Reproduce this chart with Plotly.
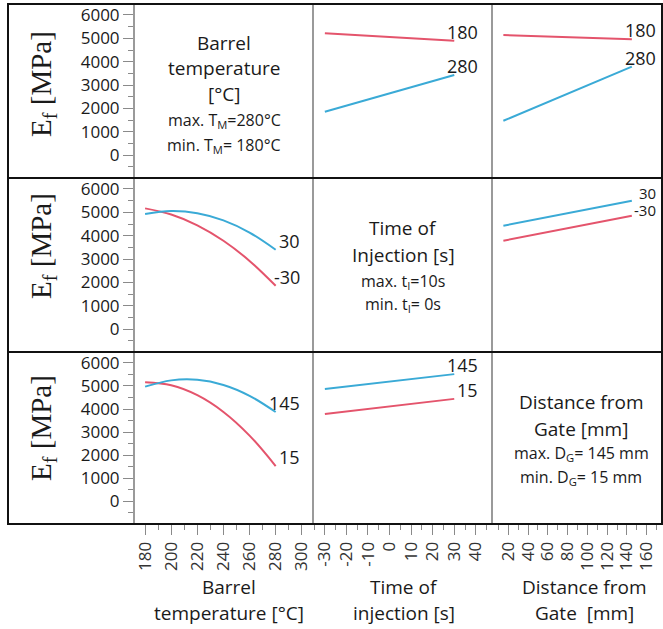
import plotly.graph_objects as go
from plotly.subplots import make_subplots

# ---------------- data ----------------
temp_x = [180, 200, 220, 240, 260, 280]          # barrel temperature [°C]
inj_x = [-30, 30]                                 # time of injection [s]
dist_x = [15, 145]                                # distance from gate [mm]

# Row 1: lines by barrel temperature (180 / 280)
r1_inj_180 = [5216, 4900]
r1_inj_280 = [1857, 3430]
r1_dist_180 = [5143, 4957]
r1_dist_280 = [1470, 3786]

# Row 2: lines by time of injection (-30 / 30)
r2_temp_m30 = [5169, 4908, 4446, 3783, 2921, 1856]
r2_temp_30 = [4929, 5053, 4961, 4655, 4134, 3399]
r2_dist_m30 = [3784, 4856]
r2_dist_30 = [4427, 5499]

# Row 3: lines by distance from gate (15 / 145)
r3_temp_15 = [5157, 5026, 4598, 3873, 2849, 1530]
r3_temp_145 = [4969, 5241, 5266, 5042, 4572, 3870]
r3_inj_15 = [3782, 4440]
r3_inj_145 = [4869, 5512]

y_ticks = [0, 1000, 2000, 3000, 4000, 5000, 6000]
temp_ticks = [180, 200, 220, 240, 260, 280, 300]
inj_ticks = [-30, -20, -10, 0, 10, 20, 30, 40]
dist_ticks = [20, 40, 60, 80, 100, 120, 140, 160]

RED = "#e4546c"
BLUE = "#3aaad6"
TXT = "#1a1a1a"
FONT = "Open Sans"

W, H = 663, 629
L, R, T, B = 134, 0, 4, 105
PW, PH = W - L - R, H - T - B

def px(x):
    return (x - L) / PW

def py(y):
    return (T + PH - y) / PH

fig = make_subplots(rows=3, cols=3, horizontal_spacing=0, vertical_spacing=0,
                    column_widths=[179, 179, 171], row_heights=[174, 174, 172])

def line(x, y, color, row, col, smooth=False):
    fig.add_trace(go.Scatter(x=x, y=y, mode="lines",
                             line=dict(color=color, width=2,
                                       shape="spline" if smooth else "linear"),
                             showlegend=False, hoverinfo="skip"), row=row, col=col)

def endlabel(text, x, y, row, col, yshift=-5, size=18):
    idx = (row - 1) * 3 + col
    xr = "x" if idx == 1 else f"x{idx}"
    yr = "y" if idx == 1 else f"y{idx}"
    fig.add_annotation(x=x, y=y, xref=xr, yref=yr, text=text, showarrow=False,
                       xanchor="right", yanchor="bottom", xshift=26, yshift=yshift,
                       font=dict(family=FONT, size=size, color=TXT))

# empty diagonal panels (text only) still need their axes drawn
for rc in (1, 2, 3):
    fig.add_trace(go.Scatter(x=[None], y=[None], mode="lines", showlegend=False,
                             hoverinfo="skip"), row=rc, col=rc)

# Row 1
line(inj_x, r1_inj_180, RED, 1, 2); line(inj_x, r1_inj_280, BLUE, 1, 2)
line(dist_x, r1_dist_180, RED, 1, 3); line(dist_x, r1_dist_280, BLUE, 1, 3)
endlabel("180", inj_x[-1], r1_inj_180[-1], 1, 2)
endlabel("280", inj_x[-1], r1_inj_280[-1], 1, 2)
endlabel("180", dist_x[-1], r1_dist_180[-1], 1, 3)
endlabel("280", dist_x[-1], r1_dist_280[-1], 1, 3)
# Row 2
line(temp_x, r2_temp_m30, RED, 2, 1, True); line(temp_x, r2_temp_30, BLUE, 2, 1, True)
line(dist_x, r2_dist_m30, RED, 2, 3); line(dist_x, r2_dist_30, BLUE, 2, 3)
endlabel("30", temp_x[-1], r2_temp_30[-1], 2, 1)
endlabel("-30", temp_x[-1], r2_temp_m30[-1], 2, 1)
endlabel("30", dist_x[-1], r2_dist_30[-1], 2, 3, yshift=-4, size=15)
endlabel("-30", dist_x[-1], r2_dist_m30[-1], 2, 3, yshift=-6, size=15)
# Row 3
line(temp_x, r3_temp_15, RED, 3, 1, True); line(temp_x, r3_temp_145, BLUE, 3, 1, True)
line(inj_x, r3_inj_15, RED, 3, 2); line(inj_x, r3_inj_145, BLUE, 3, 2)
endlabel("145", temp_x[-1], r3_temp_145[-1], 3, 1)
endlabel("15", temp_x[-1], r3_temp_15[-1], 3, 1)
endlabel("145", inj_x[-1], r3_inj_145[-1], 3, 2)
endlabel("15", inj_x[-1], r3_inj_15[-1], 3, 2)

# ---------------- axes ----------------
xranges = {1: [171.5, 308.6], 2: [-35.5, 47.5], 3: [3.5, 176.5]}
xticks = {1: temp_ticks, 2: inj_ticks, 3: dist_ticks}
xminor = {1: 10, 2: 5, 3: 10}
for r in (1, 2, 3):
    for c in (1, 2, 3):
        bottom = (r == 3)
        fig.update_xaxes(row=r, col=c, range=xranges[c], showgrid=False, zeroline=False,
                         showline=False, tickmode="array", tickvals=xticks[c],
                         ticktext=[str(v) for v in xticks[c]],
                         showticklabels=bottom, ticks="outside" if bottom else "",
                         ticklen=10, tickwidth=1, tickcolor="#8a8a8a", tickangle=-90,
                         tickfont=dict(family=FONT, size=17, color="#333333"),
                         minor=dict(dtick=xminor[c], tick0=0, ticks="outside" if bottom else "",
                                    ticklen=5, tickcolor="#8a8a8a", showgrid=False))
        left = (c == 1)
        fig.update_yaxes(row=r, col=c, range=[-980, 6470], showgrid=False, zeroline=False,
                         showline=False, tickmode="array", tickvals=y_ticks,
                         ticktext=[str(v) for v in y_ticks],
                         showticklabels=left, ticks="outside" if left else "",
                         ticklen=10, tickwidth=1, tickcolor="#8a8a8a",
                         tickfont=dict(family=FONT, size=17, color=TXT),
                         minor=dict(dtick=500, tick0=0, ticks="outside" if left else "",
                                    ticklen=5, tickcolor="#8a8a8a", showgrid=False))

# ---------------- frame lines ----------------
shapes = []
for xv in (134, 313, 492):
    shapes.append(dict(type="line", xref="paper", yref="paper", x0=px(xv), x1=px(xv),
                       y0=0, y1=1, line=dict(color="#9a9a9a", width=2)))
for yv in (178, 352):
    shapes.append(dict(type="line", xref="paper", yref="paper", x0=px(8), x1=px(663),
                       y0=py(yv), y1=py(yv), line=dict(color="#111111", width=2)))
shapes.append(dict(type="rect", xref="paper", yref="paper", x0=px(8), x1=px(662),
                   y0=py(524), y1=py(4), line=dict(color="#111111", width=2)))
fig.update_layout(shapes=shapes)

# ---------------- text ----------------
def txt(text, x, y, size=19, family=FONT, angle=0):
    fig.add_annotation(text=text, x=px(x), y=py(y), xref="paper", yref="paper",
                       showarrow=False, xanchor="center", yanchor="middle",
                       textangle=angle, font=dict(family=family, size=size, color=TXT))

# y titles
for yc in (84, 246, 428):
    txt("E<sub>f</sub> [MPa]", 43, yc, size=29, family="Liberation Serif", angle=-90)

# panel texts
txt("Barrel", 224, 43); txt("temperature", 224, 68); txt("[°C]", 224, 94)
txt("max. T<sub>M</sub>=280°C", 224, 121, size=16)
txt("min. T<sub>M</sub>= 180°C", 224, 145, size=16)

txt("Time of", 403, 228); txt("Injection [s]", 403, 255)
txt("max. t<sub>I</sub>=10s", 403, 281, size=16)
txt("min. t<sub>I</sub>= 0s", 403, 305, size=16)

txt("Distance from", 581, 402); txt("Gate [mm]", 581, 429)
txt("max. D<sub>G</sub>= 145 mm", 581, 453, size=16)
txt("min. D<sub>G</sub>= 15 mm", 581, 477, size=16)

# x titles
txt("Barrel", 229, 587); txt("temperature [°C]", 229, 613)
txt("Time of", 404, 587); txt("injection [s]", 404, 613)
txt("Distance from", 584, 587); txt("Gate  [mm]", 584, 613)

fig.update_layout(width=W, height=H, margin=dict(l=L, r=R, t=T, b=B),
                  paper_bgcolor="white", plot_bgcolor="white", showlegend=False)

fig.write_html("out.html")
